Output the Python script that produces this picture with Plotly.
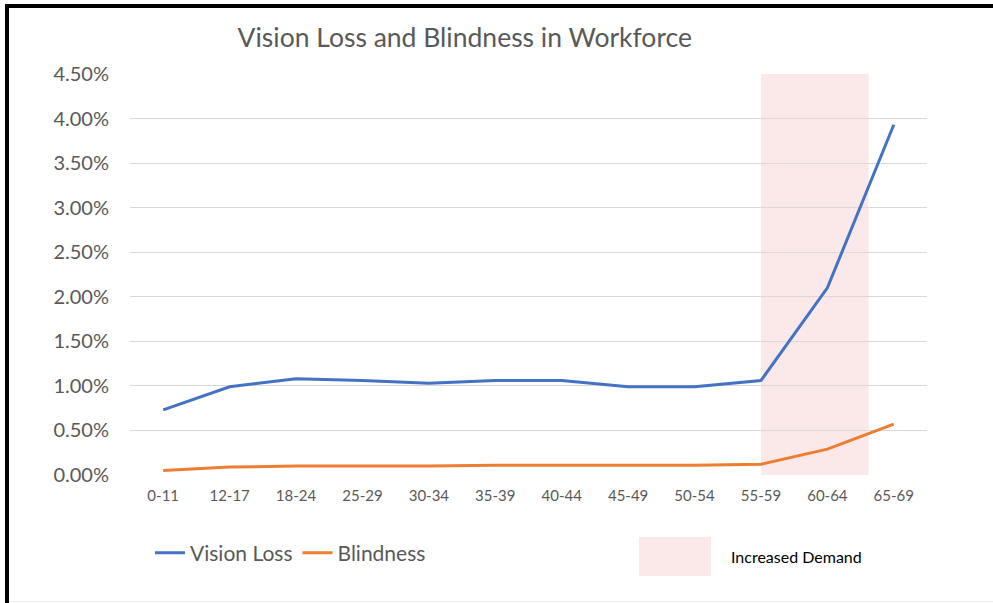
import plotly.graph_objects as go

categories = ["0-11", "12-17", "18-24", "25-29", "30-34", "35-39", "40-44",
              "45-49", "50-54", "55-59", "60-64", "65-69"]
vision_loss = [0.73, 0.99, 1.08, 1.06, 1.03, 1.06, 1.06, 0.99, 0.99, 1.06, 2.10, 3.93]
blindness = [0.05, 0.09, 0.10, 0.10, 0.10, 0.11, 0.11, 0.11, 0.11, 0.12, 0.29, 0.57]
band_start = 9      # index of 55-59
band_end = 10.62    # just past 60-64

W, H = 993, 603
L, R, T, B = 130, 66, 74, 128
pw, ph = W - L - R, H - T - B


def px(x):
    return (x - L) / pw


def py(y):
    return (H - B - y) / ph


FONT = "Lato"
GRAY = "#595959"

fig = go.Figure()
fig.add_trace(go.Scatter(x=categories, y=vision_loss, mode="lines", name="Vision Loss",
                         line=dict(color="#4472C4", width=3)))
fig.add_trace(go.Scatter(x=categories, y=blindness, mode="lines", name="Blindness",
                         line=dict(color="#ED7D31", width=3)))

shapes = [
    dict(type="rect", xref="x", yref="paper", x0=band_start, x1=band_end, y0=0, y1=1,
         fillcolor="#FBE9E9", line=dict(width=0), layer="below"),
    # legend swatch for the band
    dict(type="rect", xref="paper", yref="paper", x0=px(639), x1=px(711), y0=py(576), y1=py(537),
         fillcolor="#FBE9E9", line=dict(width=0)),
    # frame
    dict(type="line", xref="paper", yref="paper", x0=px(7), x1=px(7), y0=py(4), y1=py(603),
         line=dict(color="black", width=4)),
    dict(type="line", xref="paper", yref="paper", x0=px(5), x1=px(995), y0=py(6), y1=py(6),
         line=dict(color="black", width=4)),
    dict(type="line", xref="paper", yref="paper", x0=px(9), x1=px(995), y0=py(601.5), y1=py(601.5),
         line=dict(color="#EEEEEE", width=1)),
]

fig.update_layout(
    width=W, height=H,
    margin=dict(l=L, r=R, t=T, b=B),
    paper_bgcolor="white", plot_bgcolor="white",
    font=dict(family=FONT, color=GRAY),
    title=dict(text="Vision Loss and Blindness in Workforce", x=px(503), xanchor="center",
               y=1 - 38 / H, yanchor="middle", font=dict(size=26.5, color=GRAY, family=FONT)),
    xaxis=dict(type="category", range=[-0.5, 11.5], showgrid=False, zeroline=False,
               showline=False, ticks="", tickfont=dict(size=15, color=GRAY),
               ticklabelstandoff=10),
    yaxis=dict(range=[0, 4.5], dtick=0.5, tickformat=".2f", ticksuffix="%",
               showgrid=True, gridcolor="#D9D9D9", gridwidth=1.3, zeroline=False,
               showline=False, ticks="", tickfont=dict(size=20, color=GRAY),
               ticklabelstandoff=20),
    showlegend=True,
    legend=dict(orientation="h", x=px(150), xanchor="left", y=py(553), yanchor="middle",
                font=dict(size=21, color=GRAY), itemwidth=30, bgcolor="rgba(0,0,0,0)"),
    shapes=shapes,
    annotations=[dict(text="Increased Demand", xref="paper", yref="paper", x=px(729), y=py(556),
                      xanchor="left", yanchor="middle", showarrow=False,
                      font=dict(size=16, color="black", family=FONT))],
)

fig.write_html("out.html", config={"displayModeBar": False},
               post_script="document.body.style.margin='0';")
